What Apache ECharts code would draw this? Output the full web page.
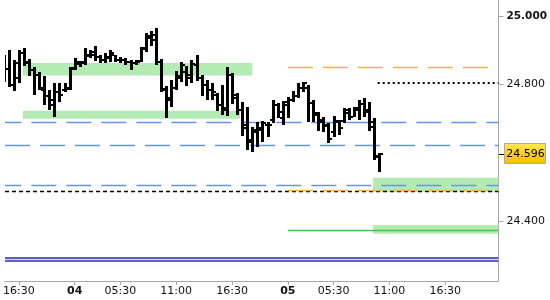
<!DOCTYPE html>
<html><head><meta charset="utf-8">
<script src="https://cdn.jsdelivr.net/npm/echarts@6/dist/echarts.min.js"></script>
<style>html,body{margin:0;padding:0;background:#fff}#c{width:550px;height:300px}</style>
</head><body><div id="c"></div>
<script>
// OHLC bars (30-minute bars), index = bar position
const openP  = [24.819,24.845,24.798,24.819,24.892,24.866,24.842,24.828,24.784,24.766,24.740,24.778,24.784,24.790,24.848,24.860,24.863,24.883,24.895,24.880,24.871,24.880,24.886,24.871,24.871,24.866,24.863,24.869,24.907,24.936,24.945,24.866,24.787,24.755,24.790,24.819,24.836,24.828,24.857,24.819,24.798,24.784,24.769,24.740,24.726,24.828,24.760,24.726,24.673,24.632,24.661,24.673,24.682,24.696,24.740,24.702,24.740,24.755,24.766,24.790,24.790,24.746,24.711,24.690,24.679,24.661,24.690,24.693,24.717,24.705,24.726,24.743,24.726,24.690,24.592];
const highP  = [24.886,24.901,24.871,24.901,24.907,24.874,24.851,24.836,24.825,24.784,24.804,24.804,24.804,24.851,24.877,24.869,24.907,24.901,24.912,24.886,24.892,24.901,24.886,24.880,24.877,24.871,24.871,24.909,24.950,24.956,24.965,24.874,24.796,24.813,24.839,24.866,24.854,24.871,24.886,24.828,24.813,24.804,24.775,24.798,24.851,24.834,24.775,24.749,24.734,24.676,24.690,24.693,24.690,24.755,24.746,24.752,24.763,24.781,24.804,24.807,24.798,24.755,24.720,24.705,24.688,24.708,24.696,24.731,24.731,24.734,24.755,24.760,24.749,24.702,24.600];
const lowP   = [24.807,24.793,24.781,24.804,24.854,24.825,24.769,24.784,24.740,24.726,24.705,24.749,24.778,24.784,24.842,24.851,24.857,24.877,24.869,24.863,24.863,24.866,24.866,24.863,24.857,24.842,24.857,24.866,24.895,24.912,24.857,24.778,24.702,24.734,24.784,24.807,24.796,24.804,24.810,24.766,24.755,24.755,24.723,24.711,24.708,24.743,24.711,24.650,24.609,24.603,24.617,24.632,24.647,24.688,24.702,24.682,24.702,24.749,24.760,24.778,24.690,24.690,24.664,24.661,24.629,24.647,24.653,24.688,24.696,24.705,24.696,24.705,24.664,24.580,24.545];
const closeP = [24.845,24.798,24.863,24.892,24.863,24.842,24.828,24.790,24.766,24.755,24.778,24.769,24.787,24.845,24.866,24.866,24.886,24.886,24.880,24.871,24.877,24.892,24.871,24.871,24.866,24.863,24.866,24.904,24.942,24.930,24.866,24.784,24.760,24.790,24.825,24.857,24.819,24.860,24.819,24.798,24.784,24.778,24.740,24.731,24.828,24.769,24.726,24.682,24.638,24.667,24.667,24.688,24.682,24.740,24.720,24.749,24.755,24.766,24.790,24.804,24.746,24.717,24.696,24.682,24.641,24.693,24.673,24.726,24.705,24.731,24.743,24.720,24.676,24.587,24.596];

// time axis ticks (bar index -> label)
const tickIndex  = [3, 14, 23, 34, 45, 56, 65, 76, 87];
const tickLabels = ['16:30','04','05:30','11:00','16:30','05','05:30','11:00','16:30'];
const dayLabels  = ['04','05'];

// price axis labels
const priceTicks = [24.4, 24.8, 25.0];

// horizontal levels
const blueDashLevels   = [24.690, 24.623, 24.505];
const blackDashLevel   = 24.488;
const orangeDashLevels = [24.851, 24.492];
const orangeStart      = 56;
const dottedLevel      = 24.805;
const dottedStart      = 73.7;
const greenLineLevel   = 24.375;
const greenLineStart   = 56;
// green zones: [fromIndex, toIndex, low, high]
const greenZones = [[3.8, 49.0, 24.826, 24.863],[3.8, 46.6, 24.700, 24.723],[72.75, 97.49, 24.487, 24.528],[72.75, 97.49, 24.364, 24.390]];
const channel = [24.2846, 24.2954];
const lastPrice = closeP[closeP.length - 1];

const X_MIN = 0.28, X_MAX = 97.49;
const Y_MIN = 24.2263, Y_MAX = 25.0467;
const FONT = 'DejaVu Sans';

const bars = openP.map((o, i) => [i, o, highP[i], lowP[i], closeP[i]]);

const lines = [];
blueDashLevels.forEach((v, i) => {
  lines.push([{coord:[X_MIN, v], lineStyle:{color:'#6495ED', width:1.3, type:[25,10], dashOffset: i === 1 ? 0 : 8.7}}, {coord:[X_MAX, v]}]);
});
lines.push([{coord:[X_MIN, blackDashLevel], lineStyle:{color:'#000', width:1.3, type:[4,3]}}, {coord:[X_MAX, blackDashLevel]}]);
orangeDashLevels.forEach(v => {
  lines.push([{coord:[orangeStart, v], lineStyle:{color:'#F4B342', width:1.3, type:[25,10], dashOffset:0}}, {coord:[X_MAX, v]}]);
});
lines.push([{coord:[dottedStart, dottedLevel], lineStyle:{color:'#000', width:2, type:[2,3]}}, {coord:[X_MAX, dottedLevel]}]);
lines.push([{coord:[greenLineStart, greenLineLevel], lineStyle:{color:'#45C845', width:1.3, type:'solid'}}, {coord:[X_MAX, greenLineLevel]}]);
channel.forEach(v => {
  lines.push([{coord:[X_MIN, v], lineStyle:{color:'#3030C8', width:1.5, type:'solid'}}, {coord:[X_MAX, v]}]);
});

const areas = greenZones.map(z => [{coord:[z[0], z[3]], itemStyle:{color:'#B4EBB4'}}, {coord:[z[1], z[2]]}]);
areas.push([{coord:[X_MIN, channel[1]], itemStyle:{color:'#DCDCE8'}}, {coord:[X_MAX, channel[0]]}]);

const chart = echarts.init(document.getElementById('c'), null, {renderer:'canvas'});
chart.setOption({
  animation: false,
  backgroundColor: '#fff',
  grid: {left:0, right:51, top:0, bottom:19, containLabel:false},
  xAxis: {
    type:'value', min:X_MIN, max:X_MAX, position:'bottom',
    axisLine:{show:true, onZero:false, lineStyle:{color:'#A8A8A8', width:1}},
    axisTick:{show:true, length:4, customValues:tickIndex, lineStyle:{color:'#A8A8A8'}},
    axisLabel:{
      customValues:tickIndex, margin:5, color:'#111', fontFamily:FONT, fontSize:11,
      formatter: v => {
        const i = tickIndex.indexOf(Math.round(v));
        const t = i >= 0 ? tickLabels[i] : '';
        return dayLabels.indexOf(t) >= 0 ? '{b|' + t + '}' : t;
      },
      rich:{b:{fontWeight:'bold', fontFamily:FONT, fontSize:11, color:'#111'}}
    },
    splitLine:{show:false}
  },
  yAxis: {
    type:'value', position:'right', min:Y_MIN, max:Y_MAX,
    axisLine:{show:true, lineStyle:{color:'#A8A8A8', width:1}},
    axisTick:{show:true, length:5, customValues:priceTicks, lineStyle:{color:'#A8A8A8'}},
    axisLabel:{
      customValues:priceTicks, margin:8, color:'#111', fontFamily:FONT, fontSize:11,
      formatter: v => {
        const s = v.toFixed(3);
        return Math.abs(v - Math.round(v)) < 1e-9 ? '{b|' + s + '}' : s;
      },
      rich:{b:{fontWeight:'bold', fontFamily:FONT, fontSize:10.5, color:'#111'}}
    },
    splitLine:{show:false}
  },
  series: [
    {
      type:'line', data:[], z:1, silent:true, symbol:'none',
      markArea:{silent:true, data:areas},
      markLine:{silent:true, symbol:['none','none'], label:{show:false}, data:lines}
    },
    {
      type:'custom', z:5, clip:true, data:bars,
      renderItem(params, api) {
        const x = api.value(0);
        const pH = api.coord([x, api.value(2)]);
        const pL = api.coord([x, api.value(3)]);
        const pO = api.coord([x, api.value(1)]);
        const pC = api.coord([x, api.value(4)]);
        const cx = Math.round(pH[0]);
        const top = Math.round(pH[1]), bot = Math.round(pL[1]);
        return {type:'group', children:[
          {type:'rect', shape:{x:cx-1, y:top, width:3, height:Math.max(bot-top,1)}, style:{fill:'#000'}},
          {type:'rect', shape:{x:cx-3, y:Math.round(pO[1])-1, width:2, height:2}, style:{fill:'#000'}},
          {type:'rect', shape:{x:cx+2, y:Math.round(pC[1])-1, width:2, height:2}, style:{fill:'#000'}}
        ]};
      }
    },
    {
      type:'custom', z:10, clip:false, silent:true, data:[[X_MAX, lastPrice]],
      renderItem(params, api) {
        const pt = api.coord([api.value(0), api.value(1)]);
        const x = Math.round(pt[0]), y = Math.round(pt[1]);
        return {type:'group', children:[
          {type:'line', shape:{x1:x+1, y1:y+0.5, x2:x+6, y2:y+0.5}, style:{stroke:'#000', lineWidth:1}},
          {type:'rect', shape:{x:x+6.5, y:y-10.5, width:41, height:20},
            style:{fill:new echarts.graphic.LinearGradient(0,0,0,1,[{offset:0,color:'#FFE866'},{offset:0.5,color:'#FFD21A'},{offset:1,color:'#F2BE00'}]), stroke:'#A8A8A8', lineWidth:1}},
          {type:'text', style:{text:api.value(1).toFixed(3), x:x+27.5, y:y+0.5, align:'center', verticalAlign:'middle', font:'11px "DejaVu Sans"', fill:'#000'}}
        ]};
      }
    }
  ]
});
</script>
</body></html>
